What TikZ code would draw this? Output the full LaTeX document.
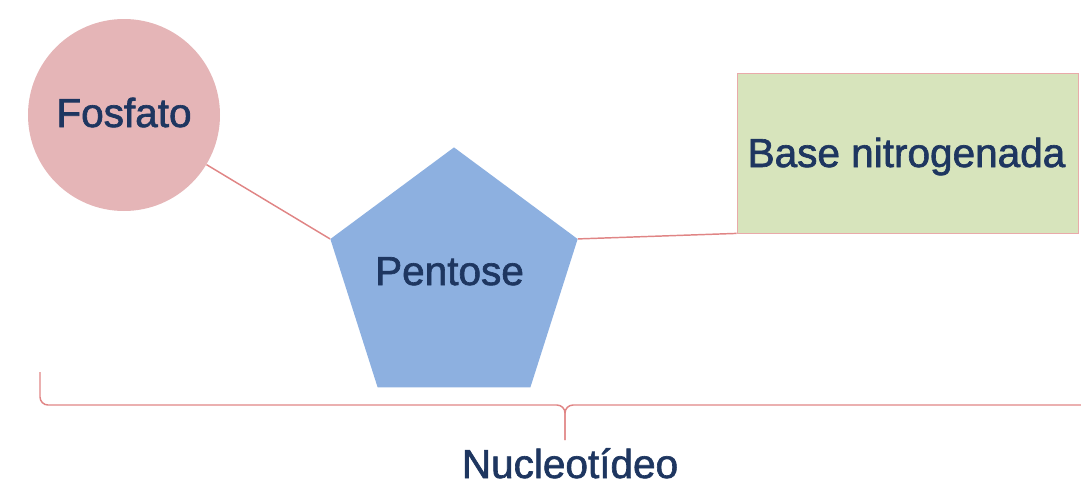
\documentclass[tikz,border=0pt]{standalone}
\usepackage{fontspec}
\setmainfont{Liberation Sans}
\newfontfamily\lblfont[FakeBold=1.6]{Liberation Sans}
\usetikzlibrary{shapes.geometric}
\definecolor{txt}{HTML}{1E3660}
\definecolor{pinkfill}{HTML}{E5B5B7}
\definecolor{bluefill}{HTML}{8DB0E0}
\definecolor{greenfill}{HTML}{D7E4BC}
\definecolor{rline}{HTML}{E08585}
\tikzset{
  lbl/.style={text=txt, font=\lblfont\fontsize{30.4}{36}\selectfont, inner sep=0pt, anchor=base},
  conn/.style={draw=rline, line width=1.1pt},
}
\begin{document}
\begin{tikzpicture}[x=0.75pt,y=-0.75pt]
\useasboundingbox (0,0) rectangle (1081,489);
% shapes
\node[circle, fill=pinkfill, minimum size=144pt, inner sep=0pt] (fos) at (124,115) {};
\node[regular polygon, regular polygon sides=5, fill=bluefill, minimum size=195pt, yscale=1.02, inner sep=0pt] (pen) at (454,280) {};
\node[rectangle, fill=greenfill, draw=rline!70, line width=0.6pt, minimum width=255.75pt, minimum height=120pt, inner sep=0pt] (base) at (907.5,153) {};
% labels
\node[lbl] (fost) at (124,127) {Fosfato};
\node[lbl] (pent) at (449.5,285) {Pentose};
\node[lbl] (baset) at (906.5,167) {Base nitrogenada};
\node[lbl] (nuc) at (570,478) {Nucleotídeo};
% connectors
\draw[conn] (fos) -- (pen.corner 2);
\draw[conn] (pen.corner 5) -- (base.south west);
% brace
\coordinate (bl) at (40,372);
\coordinate (bm) at (565,405);
\coordinate (bt) at (565,440);
\coordinate (br) at (1085,405);
\draw[conn, rounded corners=6pt] (bl) |- (bm) -- (bt);
\draw[conn, rounded corners=6pt] (bt) -- (bm) -- (br);
\end{tikzpicture}
\end{document}
